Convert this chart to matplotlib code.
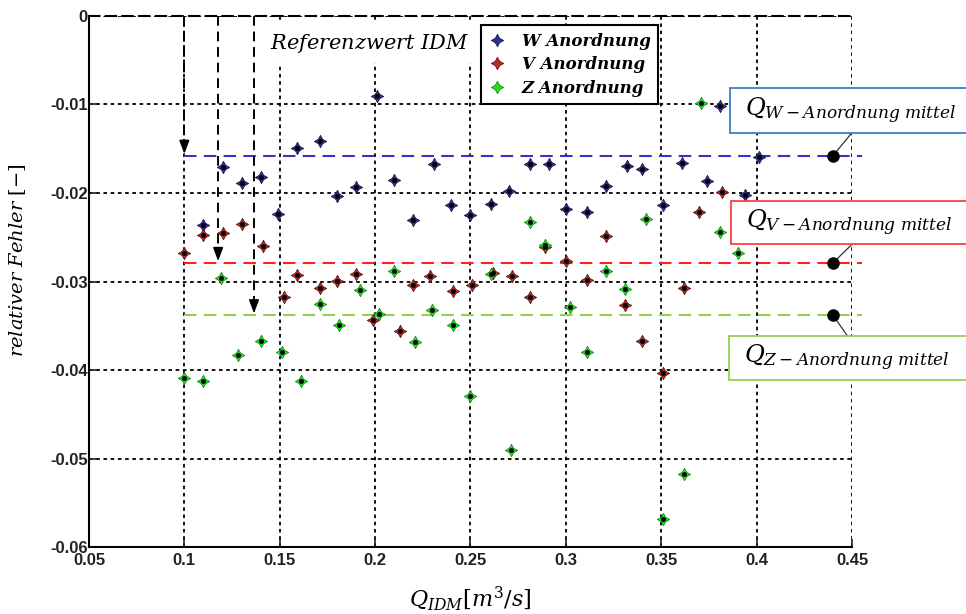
import matplotlib
matplotlib.use('Agg')
import matplotlib.pyplot as plt
from matplotlib.patches import Rectangle

plt.rcParams['mathtext.fontset'] = 'dejavuserif'

# W Anordnung
q_w = [0.110, 0.120, 0.130, 0.140, 0.149, 0.159, 0.171, 0.180, 0.190, 0.201,
       0.210, 0.220, 0.231, 0.240, 0.250, 0.261, 0.270, 0.281, 0.291, 0.300,
       0.311, 0.321, 0.332, 0.340, 0.351, 0.361, 0.374, 0.381, 0.394, 0.401]
f_w = [-0.0236, -0.0171, -0.0189, -0.0182, -0.0224, -0.0149, -0.0141, -0.0204, -0.0193, -0.0091,
       -0.0185, -0.0231, -0.0167, -0.0214, -0.0225, -0.0213, -0.0198, -0.0167, -0.0167, -0.0218,
       -0.0222, -0.0192, -0.0170, -0.0173, -0.0214, -0.0166, -0.0186, -0.0102, -0.0202, -0.0159]

# V Anordnung
q_v = [0.100, 0.110, 0.120, 0.130, 0.141, 0.152, 0.159, 0.171, 0.180, 0.190,
       0.199, 0.213, 0.220, 0.229, 0.241, 0.251, 0.262, 0.272, 0.281, 0.289,
       0.300, 0.311, 0.321, 0.331, 0.340, 0.351, 0.362, 0.370, 0.382]
f_v = [-0.0268, -0.0248, -0.0245, -0.0235, -0.0260, -0.0317, -0.0293, -0.0307, -0.0299, -0.0291,
       -0.0343, -0.0356, -0.0304, -0.0294, -0.0311, -0.0304, -0.0290, -0.0294, -0.0317, -0.0261,
       -0.0277, -0.0298, -0.0249, -0.0326, -0.0367, -0.0403, -0.0307, -0.0222, -0.0199]

# Z Anordnung
q_z = [0.100, 0.110, 0.119, 0.128, 0.140, 0.151, 0.161, 0.171, 0.181, 0.192,
       0.202, 0.210, 0.221, 0.230, 0.241, 0.250, 0.261, 0.271, 0.281, 0.289,
       0.302, 0.311, 0.321, 0.331, 0.342, 0.351, 0.362, 0.371, 0.381, 0.390]
f_z = [-0.0409, -0.0412, -0.0296, -0.0383, -0.0367, -0.0379, -0.0412, -0.0325, -0.0349, -0.0310,
       -0.0337, -0.0288, -0.0368, -0.0332, -0.0349, -0.0429, -0.0292, -0.0490, -0.0233, -0.0259,
       -0.0329, -0.0379, -0.0288, -0.0309, -0.0229, -0.0568, -0.0517, -0.0098, -0.0244, -0.0268]

# Mittelwerte und Referenzpfeile
mean_w, mean_v, mean_z = -0.0158, -0.0279, -0.0338
ref_q = [0.100, 0.1177, 0.1365]

xticks = [0.05, 0.1, 0.15, 0.2, 0.25, 0.3, 0.35, 0.4, 0.45]
yticks = [0, -0.01, -0.02, -0.03, -0.04, -0.05, -0.06]

fig = plt.figure(figsize=(9.66, 6.14), dpi=100)
ax = fig.add_axes([0.0921, 0.1086, 0.7899, 0.8658])
ax.set_xlim(0.05, 0.45)
ax.set_ylim(-0.06, 0)
ax.set_xticks(xticks)
ax.set_xticklabels(['%g' % t for t in xticks])
ax.set_yticks(yticks)
ax.set_yticklabels(['%g' % t for t in yticks])
ax.grid(True, color='k', ls=(0, (2, 2)), lw=1.3)
ax.tick_params(direction='in', length=6, width=1.2, labelsize=12, colors='#222')
ax.tick_params(axis='y', pad=1)
ax.tick_params(axis='x', pad=4)
for lab in ax.get_xticklabels() + ax.get_yticklabels():
    lab.set_family('Liberation Sans')
    lab.set_fontweight('bold')
for s in ['left', 'bottom']:
    ax.spines[s].set_linewidth(1.5)
ax.spines['right'].set_visible(False)
ax.spines['top'].set_linestyle((0, (5, 3)))
ax.spines['top'].set_linewidth(1.5)


def stars(q, f, c, ec, lab):
    ax.plot(q, f, ls='none', marker=(4, 1, 0), ms=9, mfc=c, mec=ec, mew=0.5,
            label=lab, zorder=4)
    ax.plot(q, f, ls='none', marker='o', ms=2.5, color='k', zorder=5)


stars(q_w, f_w, '#2e2e96', '#14143c', 'W Anordnung')
stars(q_v, f_v, '#b82a2a', '#4a0e0e', 'V Anordnung')
stars(q_z, f_z, '#22dd22', '#108010', 'Z Anordnung')

# Mittelwertlinien
for m, c in [(mean_w, '#3333cc'), (mean_v, '#ff2020'), (mean_z, '#92d050')]:
    ax.plot([0.1, 0.455], [m, m], color=c, ls=(0, (6, 3.5)), lw=1.5,
            clip_on=False, zorder=3)

# Referenzpfeile
for xq, m in zip(ref_q, [mean_w, mean_v, mean_z]):
    ax.plot([xq, xq], [0, m + 0.0008], color='k', ls=(0, (5, 3)), lw=1.4, zorder=3)
    ax.annotate('', xy=(xq, m + 0.0002), xytext=(xq, m + 0.0014),
                arrowprops=dict(arrowstyle='-|>,head_width=0.3,head_length=0.8',
                                color='k', lw=1.2, shrinkA=0, shrinkB=0))

ax.text(0.197, -0.0031, r'$Referenzwert\ IDM$', fontsize=15, ha='center', va='center',
        zorder=6, bbox=dict(fc='white', ec='none', pad=6))

leg = ax.legend(loc='upper left', bbox_to_anchor=(0.5138, 0.9825), borderaxespad=0,
                fancybox=False, framealpha=1, edgecolor='k', handlelength=1.0,
                handletextpad=1.0, borderpad=0.45, labelspacing=0.4,
                prop=dict(family='DejaVu Serif', style='italic', weight='bold', size=12))
leg.get_frame().set_linewidth(1.5)

# Beschriftungskästen der Mittelwerte
boxes = [
    (mean_w, 0.3858, -0.0132, -0.0082, '#3f7fc4', r'$Q_{W-Anordnung\ mittel}$', 0.4500, -0.0132),
    (mean_v, 0.3866, -0.0258, -0.0209, '#ff4040', r'$Q_{V-Anordnung\ mittel}$', 0.4500, -0.0258),
    (mean_z, 0.3854, -0.0411, -0.0362, '#92d050', r'$Q_{Z-Anordnung\ mittel}$', 0.4478, -0.0362),
]
for m, x0, y0, y1, ec, txt, lx, ly in boxes:
    ax.plot([0.44, lx], [m, ly], color='#333', lw=0.9, clip_on=False, zorder=6)
    ax.plot([0.44], [m], 'o', color='k', ms=8, clip_on=False, zorder=7)
    ax.add_patch(Rectangle((x0, y0), 0.14, y1 - y0, fc='white', ec=ec, lw=1.3,
                           clip_on=False, zorder=8))
    ax.text(x0 + 0.008, (y0 + y1) / 2, txt, fontsize=17.5, ha='left', va='center',
            zorder=9, clip_on=False)

ax.set_xlabel(r'$Q_{IDM}[m^3/s]$', fontsize=16, labelpad=12)
ax.set_ylabel(r'$relativer\ Fehler\ [-]$', fontsize=14, labelpad=12)
ax.yaxis.set_label_coords(-0.08, 0.54)

fig.savefig('out.png', dpi=100, facecolor='white')
